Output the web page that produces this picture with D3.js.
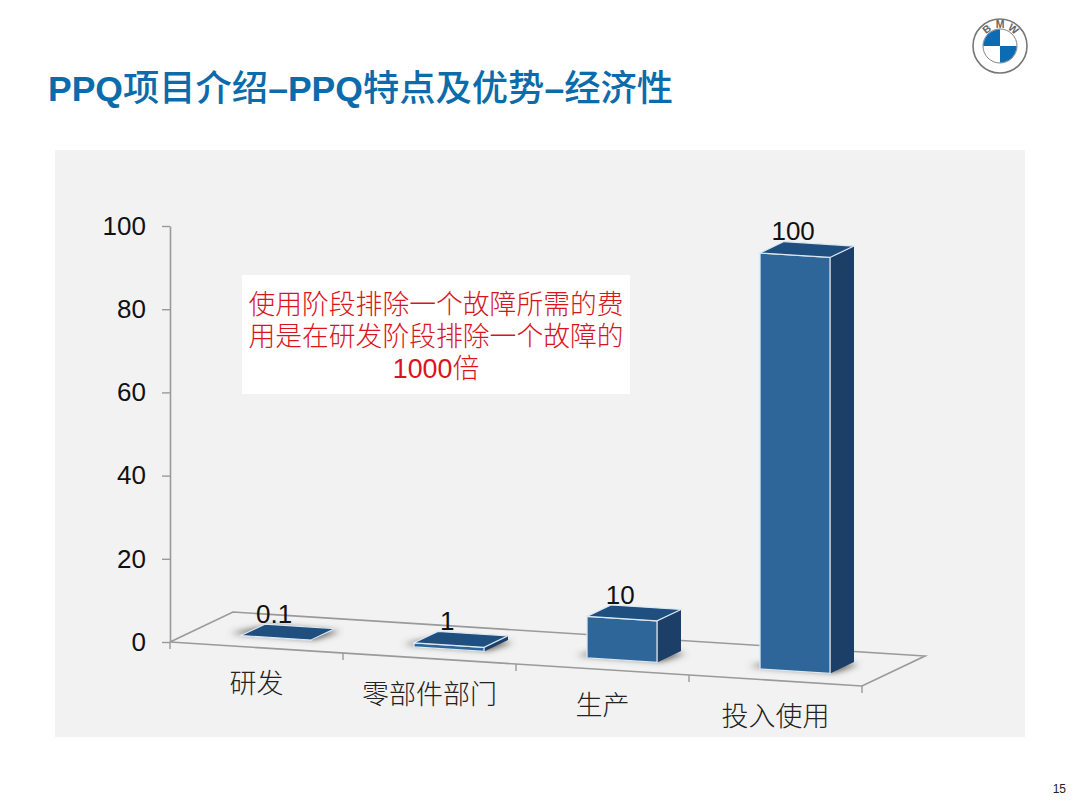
<!DOCTYPE html>
<html>
<head>
<meta charset="utf-8">
<script src="https://cdn.jsdelivr.net/npm/d3@7"></script>
<style>
  html, body { margin: 0; padding: 0; background: #fff; }
  text { font-family: "Liberation Sans", "Noto Sans CJK SC", sans-serif; }
</style>
</head>
<body>
<div id="chart"></div>
<script>
var categories = ["研发", "零部件部门", "生产", "投入使用"];
var values = [0.1, 1, 10, 100];
var valueLabels = ["0.1", "1", "10", "100"];
var yTicks = [0, 20, 40, 60, 80, 100];
var noteLines = ["使用阶段排除一个故障所需的费", "用是在研发阶段排除一个故障的", "1000倍"];
var titleParts = ["PPQ", "项目介绍", "–PPQ", "特点及优势", "–", "经济性"];
var pageNumber = "15";

var svg = d3.select("#chart").append("svg")
    .attr("width", 1080).attr("height", 809)
    .style("display", "block");

var defs = svg.append("defs");
defs.append("filter").attr("id", "floorShadow")
    .attr("x", "-30%").attr("y", "-100%").attr("width", "160%").attr("height", "300%")
    .append("feGaussianBlur").attr("stdDeviation", 3.2);

// title, the cjk runs are a bit larger than the latin ones
var title = svg.append("text").attr("x", 48).attr("y", 101).attr("fill", "#0b6bab");
title.selectAll("tspan").data(titleParts).enter().append("tspan")
    .attr("font-size", function (d, i) { return i % 2 === 0 && i < 5 ? 35.5 : 36.3; })
    .attr("font-weight", function (d, i) { return i % 2 === 0 && i < 5 ? "bold" : 500; })
    .text(function (d) { return d; });

// logo
var logo = svg.append("g").attr("transform", "translate(1000,46)");
logo.append("circle").attr("r", 27).attr("fill", "#fff").attr("stroke", "#777").attr("stroke-width", 1.6);
logo.append("circle").attr("r", 17).attr("fill", "#fff").attr("stroke", "#666").attr("stroke-width", 0.8);
var quarter = d3.arc().innerRadius(0).outerRadius(16.6);
logo.selectAll("path.quarter").data([-Math.PI / 2, Math.PI / 2]).enter().append("path")
    .attr("class", "quarter")
    .attr("d", function (d) { return quarter({ startAngle: d, endAngle: d + Math.PI / 2 }); })
    .attr("fill", "#0b6cb3");
logo.selectAll("text").data([["B", -38], ["M", 0], ["W", 38]]).enter().append("text")
    .attr("transform", function (d) { return "rotate(" + d[1] + ") translate(0,-18)"; })
    .attr("text-anchor", "middle")
    .attr("font-size", 10.5).attr("font-weight", "bold").attr("fill", "#666")
    .text(function (d) { return d[0]; });

// panel
svg.append("rect").attr("x", 55).attr("y", 150).attr("width", 970).attr("height", 587).attr("fill", "#f2f2f2");

// pseudo 3d projection: u along the front floor edge, z into the depth, v up
var originX = 170, originY = 642, floorW = 692;
var floorSlope = 44 / 692;
var depthX = 63, depthY = -30;

var x = d3.scaleBand().domain(categories).range([0, floorW]).paddingInner(0.595).paddingOuter(0.2975);
var y = d3.scaleLinear().domain([0, 100]).range([originY, 226]);

function project(u, z, val) {
    return [
        originX + u + depthX * z,
        y(val) + u * floorSlope + depthY * z
    ];
}

var stroke = "#9a9a9a";

// floor edges
var floorPts = [[0, 0], [floorW, 0], [floorW, 1], [0, 1], [0, 0]];
svg.append("path")
    .attr("d", d3.line()(floorPts.map(function (p) { return project(p[0], p[1], 0); })))
    .attr("fill", "none").attr("stroke", stroke).attr("stroke-width", 1.6);

var step = x.step();
svg.selectAll("line.floorTick").data(d3.range(0, categories.length + 1)).enter().append("line")
    .attr("class", "floorTick")
    .attr("x1", function (d) { return project(d * step, 0, 0)[0]; })
    .attr("x2", function (d) { return project(d * step, 0, 0)[0]; })
    .attr("y1", function (d) { return project(d * step, 0, 0)[1]; })
    .attr("y2", function (d) { return project(d * step, 0, 0)[1] + 7; })
    .attr("stroke", stroke).attr("stroke-width", 1.4);

// y axis
var yAxis = svg.append("g").attr("transform", "translate(" + originX + ",0)")
    .call(d3.axisLeft(y).tickValues(yTicks).tickSize(8).tickSizeOuter(0).tickPadding(16));
yAxis.select(".domain").attr("stroke", stroke).attr("stroke-width", 1.6);
yAxis.selectAll(".tick line").attr("stroke", stroke).attr("stroke-width", 1.4);
yAxis.selectAll(".tick text").attr("font-size", 26).attr("fill", "#111")
    .style("font-family", '"Liberation Sans", sans-serif');

// bars
var z0 = 0.31, z1 = 0.69;
var bw = x.bandwidth();

function face(pts) {
    return d3.line()(pts) + "Z";
}

var bars = svg.selectAll("g.bar").data(categories).enter().append("g").attr("class", "bar");

bars.append("path")
    .attr("filter", "url(#floorShadow)")
    .attr("fill", "#5a5650")
    .attr("d", function (c) {
        var u = x(c);
        return face([project(u - 15, z0 + 0.06, 0), project(u + bw + 2, z0 + 0.04, 0),
                     project(u + bw + 9, z1 - 0.06, 0), project(u + 8, z1 - 0.02, 0)]);
    });

var edge = "#dde8f2";

bars.append("path").attr("fill", "#1b3f66").attr("stroke", "none")
    .attr("d", function (c, i) {
        var u = x(c) + bw, v = values[i];
        return face([project(u, z0, 0), project(u, z1, 0), project(u, z1, v), project(u, z0, v)]);
    });

bars.append("path").attr("fill", "#2f6699").attr("stroke", edge).attr("stroke-width", 1.3)
    .attr("d", function (c, i) {
        var u = x(c), v = values[i];
        return face([project(u, z0, 0), project(u + bw, z0, 0), project(u + bw, z0, v), project(u, z0, v)]);
    });

bars.append("path").attr("fill", "#1f4f7f").attr("stroke", edge).attr("stroke-width", 1.2)
    .attr("d", function (c, i) {
        var u = x(c), v = values[i];
        return face([project(u, z0, v), project(u + bw, z0, v), project(u + bw, z1, v), project(u, z1, v)]);
    });

// value labels
svg.selectAll("text.valueLabel").data(categories).enter().append("text")
    .attr("class", "valueLabel")
    .attr("text-anchor", "middle").attr("dy", "0.35em")
    .attr("font-size", 26).attr("fill", "#111")
    .attr("x", function (c) { return project(x(c) + bw / 2, 0.28, 0)[0]; })
    .attr("y", function (c, i) { return project(x(c) + bw / 2, 0.28, values[i])[1] - 25; })
    .text(function (c, i) { return valueLabels[i]; });

// category labels
svg.selectAll("text.catLabel").data(categories).enter().append("text")
    .attr("class", "catLabel")
    .attr("text-anchor", "middle").attr("dy", "0.35em")
    .attr("font-size", 27).attr("font-weight", 300).attr("fill", "#222")
    .attr("x", function (c) { return project(x(c) + bw / 2, 0, 0)[0]; })
    .attr("y", function (c) { return project(x(c) + bw / 2, 0, 0)[1] + 36; })
    .text(function (c) { return c; });

// note box
svg.append("rect").attr("x", 242).attr("y", 275).attr("width", 388).attr("height", 119).attr("fill", "#fff");
svg.selectAll("text.note").data(noteLines).enter().append("text")
    .attr("class", "note")
    .attr("x", 436).attr("y", function (d, i) { return 305 + i * 32; })
    .attr("dy", "0.35em").attr("text-anchor", "middle")
    .attr("font-size", 26.8).attr("font-weight", 300).attr("fill", "#d9141c")
    .text(function (d) { return d; });

// page number
svg.append("text").attr("x", 1066).attr("y", 793).attr("text-anchor", "end")
    .attr("font-size", 12).attr("fill", "#222").text(pageNumber);
</script>
</body>
</html>
